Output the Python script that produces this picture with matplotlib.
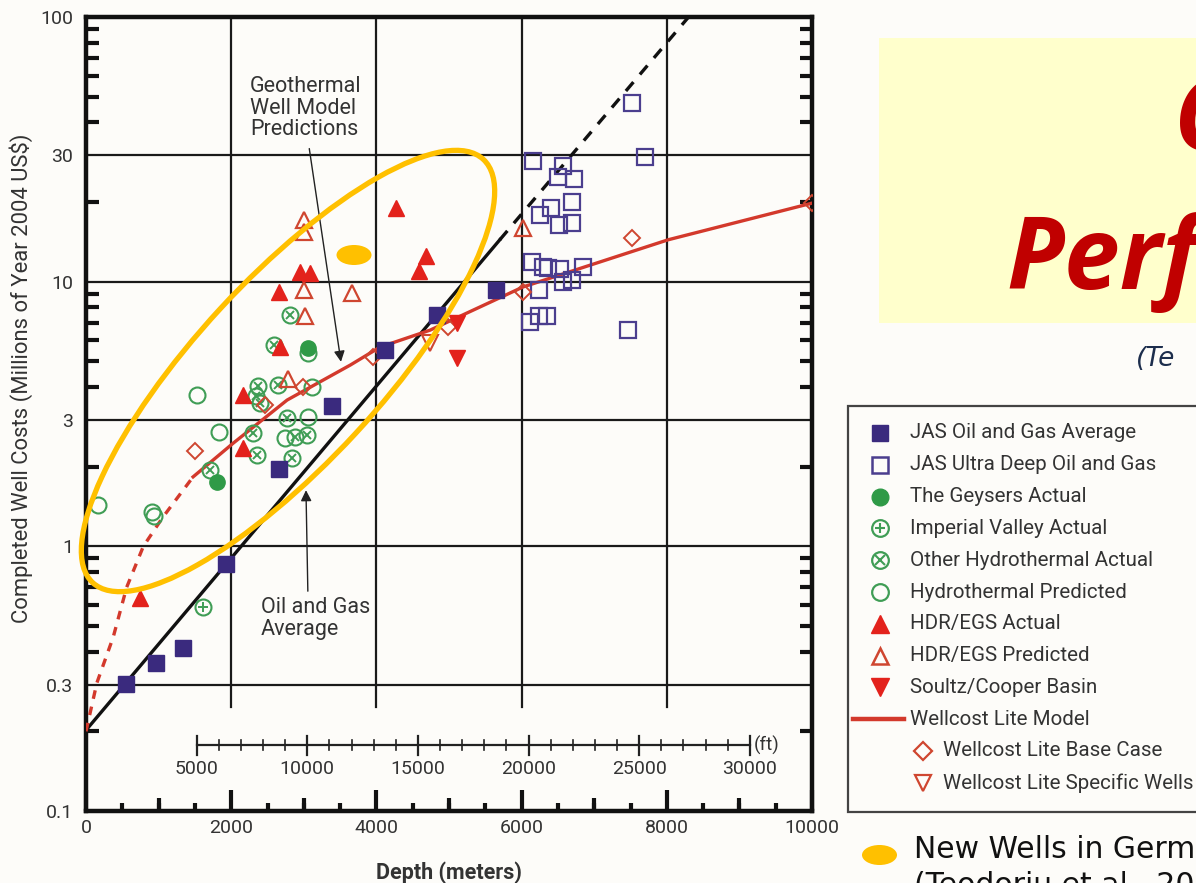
import numpy as np
import matplotlib
matplotlib.use("Agg")
import matplotlib.pyplot as plt
from matplotlib.patches import Ellipse, Rectangle
import matplotlib.transforms as mtransforms

# ---------------- data (depth in m, cost in million 2004 US$) ----------------
jas_avg_depth = [551, 964, 1336, 1928, 2658, 3388, 4118, 4835, 5647]
jas_avg_cost = [0.302, 0.362, 0.413, 0.857, 1.96, 3.39, 5.52, 7.48, 9.31]

jas_deep_depth = [6157, 6570, 6501, 6722, 6694, 6405, 6253, 6515, 6694, 6143, 6295,
                  6364, 6529, 6846, 6570, 6694, 6240, 6116, 6240, 6350, 7466, 7521, 7700]
jas_deep_cost = [28.6, 27.4, 24.9, 24.4, 20.0, 19.0, 17.9, 16.4, 16.7, 11.9, 11.4,
                 11.3, 11.2, 11.4, 9.97, 10.15, 9.31, 7.04, 7.42, 7.42, 6.57, 47.3, 29.6]

geysers_depth = [3058, 1804]
geysers_cost = [5.62, 1.75]

imperial_depth = [1612]
imperial_cost = [0.59]

other_hydro_depth = [2810, 2590, 2369, 2645, 2397, 2769, 2300, 2879, 3044, 2355, 2837, 1708, 2342]
other_hydro_cost = [7.48, 5.77, 4.04, 4.07, 3.48, 3.05, 2.68, 2.59, 2.63, 2.21, 2.16, 1.94, 3.70]

hydro_pred_depth = [1529, 1832, 165, 909, 937, 3058, 2741, 3113, 3058]
hydro_pred_cost = [3.73, 2.71, 1.43, 1.35, 1.30, 3.08, 2.57, 4.00, 5.38]

egs_actual_depth = [4270, 4683, 4587, 2948, 3085, 2658, 2672, 2162, 2162, 744]
egs_actual_cost = [19.0, 12.5, 10.97, 10.9, 10.8, 9.15, 5.67, 3.73, 2.35, 0.64]

egs_pred_depth = [3003, 3003, 3003, 3016, 3664, 2782, 6020]
egs_pred_cost = [17.1, 15.4, 9.31, 7.41, 9.06, 4.29, 15.96]

soultz_depth = [5110, 5110]
soultz_cost = [6.98, 5.15]

base_case_depth = [1501, 2989, 2466, 3953, 4986, 6020, 7521, 10000]
base_case_cost = [2.29, 4.00, 3.42, 5.19, 6.75, 9.14, 14.6, 19.8]

specific_depth = [4738]
specific_cost = [5.87]

# Wellcost Lite model curve: dashed shallow extrapolation + solid model range
model_ext_depth = [0, 150, 375, 560, 790, 1060, 1475]
model_ext_cost = [0.20, 0.305, 0.454, 0.70, 1.0, 1.29, 1.83]
model_depth = [1475, 2025, 2770, 3640, 4050, 4740, 6020, 8020, 10000]
model_cost = [1.83, 2.45, 3.57, 4.84, 5.66, 6.56, 9.55, 14.4, 19.8]

# Oil and gas average trend (exponential): fitted range and extrapolation
og_depth = [0, 5700]
og_cost = [0.202, 14.4]
og_ext_depth = [5700, 8300]
og_ext_cost = [14.4, 100.0]

y_ticks = [0.1, 0.3, 1, 3, 10, 30, 100]
y_labels = ["0.1", "0.3", "1", "3", "10", "30", "100"]
x_ticks = [0, 2000, 4000, 6000, 8000, 10000]
ft_ticks = [5000, 10000, 15000, 20000, 25000, 30000]

legend_labels = ["JAS Oil and Gas Average", "JAS Ultra Deep Oil and Gas",
                 "The Geysers Actual", "Imperial Valley Actual",
                 "Other Hydrothermal Actual", "Hydrothermal Predicted",
                 "HDR/EGS Actual", "HDR/EGS Predicted", "Soultz/Cooper Basin",
                 "Wellcost Lite Model", "Wellcost Lite Base Case",
                 "Wellcost Lite Specific Wells"]

# ---------------- style ----------------
FONT = ["Roboto", "DejaVu Sans"]
plt.rcParams["font.family"] = FONT
NAVY = "#3a2a7e"
GREEN = "#2f9a47"
GREEN_O = "#3f9d55"
RED = "#e3221c"
RED_O = "#cf4630"
MODEL = "#d3392c"
YELLOW = "#FFC000"
BG = "#fdfcf9"
TXT = "#333333"

W, H = 1196, 883
fig = plt.figure(figsize=(W / 100, H / 100), dpi=100, facecolor=BG)

ax = fig.add_axes([86 / W, 1 - 811 / H, 726 / W, 794 / H])
ax.set_facecolor(BG)
ax.set_yscale("log")
ax.set_xlim(0, 10000)
ax.set_ylim(0.1, 100)

# grid
for yv in [0.3, 1, 3, 10, 30]:
    ax.axhline(yv, color="#1a1a1a", lw=1.6, zorder=1)
for xv in [2000, 4000, 6000, 8000]:
    ax.axvline(xv, ymin=0.131, ymax=1, color="#1a1a1a", lw=1.6, zorder=1)

for sp in ax.spines.values():
    sp.set_linewidth(3.2)
    sp.set_color("#111111")

ax.set_yticks(y_ticks)
ax.set_yticklabels(y_labels)
ax.yaxis.set_minor_locator(matplotlib.ticker.LogLocator(base=10, subs=np.arange(2, 10)))
ax.yaxis.set_minor_formatter(matplotlib.ticker.NullFormatter())
ax.tick_params(axis="y", which="major", direction="in", length=0, left=True, right=True,
               labelsize=14, labelcolor=TXT, pad=9)
ax.tick_params(axis="y", which="minor", direction="in", length=9, width=3.0,
               left=True, right=True, color="#111111")

ax.set_xticks(x_ticks)
ax.set_xticklabels([str(v) for v in x_ticks])
ax.xaxis.set_minor_locator(matplotlib.ticker.MultipleLocator(500))
ax.tick_params(axis="x", which="major", direction="in", length=15, width=3.0,
               labelsize=14, labelcolor=TXT, pad=6, color="#111111")
ax.tick_params(axis="x", which="minor", direction="in", length=6, width=3.0,
               color="#111111")
# intermediate ticks at odd thousands
sec = ax.secondary_xaxis("bottom")
sec.set_xticks([1000, 3000, 5000, 7000, 9000])
sec.tick_params(direction="in", length=9.5, width=3.0, labelbottom=False, color="#111111")
sec.spines["bottom"].set_visible(False)

ax.set_ylabel("Completed Well Costs (Millions of Year 2004 US$)", fontsize=15.8,
              color=TXT)
ax.yaxis.set_label_coords(-0.073, 0.545)
ax.set_xlabel("Depth (meters)", fontsize=15.5, fontweight="bold", color=TXT, labelpad=17)

# feet scale bar
ftm = 0.3048
trans = mtransforms.blended_transform_factory(ax.transData, ax.transAxes)
yb = 0.083
ax.plot([5000 * ftm, 30000 * ftm], [yb, yb], transform=trans, color="#222", lw=1.6,
        zorder=2, clip_on=False)
for f in range(5000, 30001, 1000):
    big = f % 5000 == 0
    h = 0.012 if big else 0.006
    ax.plot([f * ftm, f * ftm], [yb - h, yb + h], transform=trans, color="#222",
            lw=1.6 if big else 1.2, zorder=2)
for f in ft_ticks:
    ax.text(f * ftm, yb - 0.019, str(f), transform=trans, ha="center", va="top",
            fontsize=14, color=TXT)
ax.text(30000 * ftm + 60, yb, "(ft)", transform=trans, ha="left", va="center",
        fontsize=13.5, color=TXT)

# trend lines
ax.plot(og_depth, og_cost, color="#111111", lw=2.4, zorder=3)
ax.plot(og_ext_depth, og_ext_cost, color="#111111", lw=2.4, ls=(0, (3.5, 3)), zorder=3)
ax.plot(model_ext_depth, model_ext_cost, color=MODEL, lw=2.4, ls=(0, (2.6, 2.4)), zorder=3)
ax.plot(model_depth, model_cost, color=MODEL, lw=2.4, zorder=3)

# data markers
def pts(x, y, **kw):
    ax.plot(x, y, ls="none", zorder=4, **kw)

pts(jas_deep_depth, jas_deep_cost, marker="s", ms=11, mfc="none", mec="#4b3e8e", mew=1.6)
pts(hydro_pred_depth, hydro_pred_cost, marker="o", ms=11.5, mfc="none", mec=GREEN_O, mew=1.5)
pts(other_hydro_depth, other_hydro_cost, marker="o", ms=11.5, mfc="none", mec=GREEN_O, mew=1.5)
pts(other_hydro_depth, other_hydro_cost, marker="x", ms=6, mec=GREEN_O, mew=1.4)
pts(imperial_depth, imperial_cost, marker="o", ms=11.5, mfc="none", mec=GREEN_O, mew=1.5)
pts(imperial_depth, imperial_cost, marker="+", ms=7, mec=GREEN_O, mew=1.4)
pts(geysers_depth, geysers_cost, marker="o", ms=11, mfc=GREEN, mec=GREEN, mew=1)
pts(base_case_depth, base_case_cost, marker="D", ms=8, mfc="none", mec=RED_O, mew=1.4)
pts(specific_depth, specific_cost, marker="v", ms=11, mfc="none", mec=RED_O, mew=1.5)
pts(egs_pred_depth, egs_pred_cost, marker="^", ms=11, mfc="none", mec=RED_O, mew=1.6)
pts(egs_actual_depth, egs_actual_cost, marker="^", ms=12, mfc=RED, mec=RED, mew=1)
pts(soultz_depth, soultz_cost, marker="v", ms=12, mfc=RED, mec=RED, mew=1)
pts(jas_avg_depth, jas_avg_cost, marker="s", ms=11.5, mfc=NAVY, mec=NAVY, mew=1)

# annotations
ax.annotate("Geothermal\nWell Model\nPredictions", xy=(3512, 4.98), xytext=(2259, 60),
            ha="left", va="top", fontsize=15.5, color=TXT, linespacing=1.05,
            arrowprops=dict(arrowstyle="-|>", color="#222", lw=1.0, mutation_scale=16,
                            shrinkA=4, shrinkB=0, relpos=(0.52, 0.0)), zorder=5)
ax.annotate("Oil and Gas\nAverage", xy=(3030, 1.63), xytext=(2410, 0.645),
            ha="left", va="top", fontsize=15.5, color=TXT, linespacing=1.05,
            arrowprops=dict(arrowstyle="-|>", color="#222", lw=1.0, mutation_scale=16,
                            shrinkA=2, shrinkB=0, relpos=(0.43, 1.0)), zorder=5)

# ---------------- slide overlay (pixel coordinates) ----------------
ov = fig.add_axes([0, 0, 1, 1], zorder=10)
ov.set_xlim(0, W)
ov.set_ylim(H, 0)
ov.axis("off")

ov.add_patch(Ellipse((288, 371), 2 * 288, 2 * 92, angle=-47.3, fill=False,
                     ec=YELLOW, lw=3.8))
ov.add_patch(Ellipse((354, 255), 35, 20, fc=YELLOW, ec="none"))

# title box
ov.add_patch(Rectangle((879, 38), 330, 285, fc="#ffffcc", ec="none"))
title_kw = dict(color="#c00000", fontweight="bold", fontstyle="italic",
                family=["Open Sans", "Noto Sans", "DejaVu Sans"], fontsize=72,
                va="baseline", ha="left")
ov.text(1174, 150, "C", **title_kw)
ov.text(1006, 289, "Perf", **title_kw)
ov.text(1136, 366, "(Te", color="#1c2d4c", fontsize=19, fontstyle="italic",
        family=["DejaVu Sans"], va="baseline", ha="left")

# legend box
ov.add_patch(Rectangle((848, 406), 360, 406, fc=BG, ec="#444444", lw=1.6))
row0, dy = 433, 31.8
mx, tx = 880, 910
specs = [
    dict(marker="s", ms=12, mfc=NAVY, mec=NAVY),
    dict(marker="s", ms=11, mfc="none", mec="#4b3e8e", mew=1.8),
    dict(marker="o", ms=12, mfc=GREEN, mec=GREEN),
    dict(marker="o", ms=12, mfc="none", mec=GREEN_O, mew=1.6),
    dict(marker="o", ms=12, mfc="none", mec=GREEN_O, mew=1.6),
    dict(marker="o", ms=12, mfc="none", mec=GREEN_O, mew=1.6),
    dict(marker="^", ms=13, mfc=RED, mec=RED),
    dict(marker="^", ms=12, mfc="none", mec=RED_O, mew=1.8),
    dict(marker="v", ms=13, mfc=RED, mec=RED),
]
LFS = 14.8
for i, lab in enumerate(legend_labels):
    y = row0 + i * dy
    if i < len(specs):
        ov.plot([mx], [y], ls="none", **specs[i])
        if i == 3:
            ov.plot([mx], [y], ls="none", marker="+", ms=7.5, mec=GREEN_O, mew=1.5)
        if i == 4:
            ov.plot([mx], [y], ls="none", marker="x", ms=6.5, mec=GREEN_O, mew=1.5)
        ov.text(tx, y, lab, fontsize=LFS, color=TXT, va="center", ha="left")
    elif i == 9:
        ov.plot([853, 904], [y, y], color=MODEL, lw=3.2)
        ov.text(tx, y, lab, fontsize=LFS, color=TXT, va="center", ha="left")
    else:
        mk = "D" if i == 10 else "v"
        ov.plot([923], [y], ls="none", marker=mk, ms=9 if mk == "D" else 12,
                mfc="none", mec=RED_O, mew=1.6)
        ov.text(943, y, lab, fontsize=LFS, color=TXT, va="center", ha="left")

ov.add_patch(Ellipse((879.5, 855), 35, 20, fc=YELLOW, ec="none"))
ov.text(914, 858, "New Wells in Germ", fontsize=21.5, color="#111111", va="baseline",
        ha="left", family=["DejaVu Sans"])
ov.text(914, 894, "(Teodoriu et al., 20", fontsize=21.5, color="#111111", va="baseline",
        ha="left", family=["DejaVu Sans"])

fig.savefig("out.png", dpi=100, facecolor=BG)
